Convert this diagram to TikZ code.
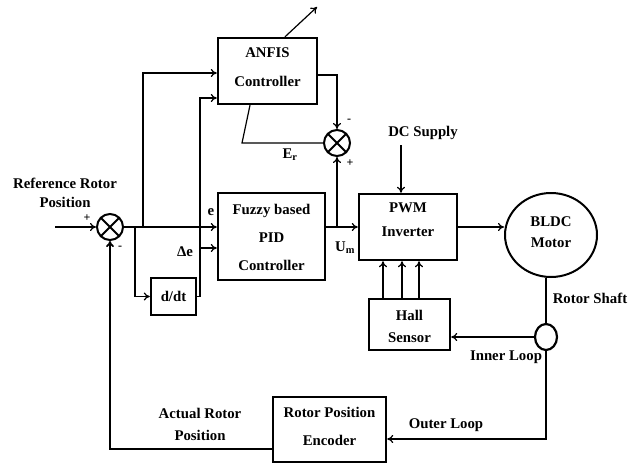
\documentclass[tikz,border=0pt]{standalone}
\usepackage{fontspec}
\setmainfont{Liberation Serif}
\usetikzlibrary{arrows.meta,shapes.geometric}

\begin{document}
\begin{tikzpicture}[x=1pt,y=-1pt,line width=1.2pt,>={To[length=6pt,width=8pt]},
  font=\fontsize{14.8}{18}\selectfont\bfseries,
  blk/.style={draw,line width=2.4pt,inner sep=0pt},
  btxt/.style={align=center,inner sep=0pt},
  lbl/.style={inner sep=0pt,align=center},
  sgn/.style={inner sep=0pt,font=\fontsize{12}{12}\selectfont\bfseries},
  sumj/.style={draw,circle,line width=2pt,minimum size=26pt,inner sep=0pt,
    path picture={\draw[line width=2pt]
      (path picture bounding box.north west)--(path picture bounding box.south east)
      (path picture bounding box.north east)--(path picture bounding box.south west);}}]
  \useasboundingbox (0,0) rectangle (639,463);
  % bloques
  \node[sumj] (j1) at (110,227) {};
  \node[sumj] (j2) at (337,143) {};
  \node[blk,minimum width=99pt,minimum height=66pt] (anfis) at (267.5,71) {};
  \node[btxt] (anfistxt) at (267.5,67.5) {ANFIS\\[11pt]Controller};
  \node[blk,minimum width=107pt,minimum height=87pt] (fuzzy) at (271.5,236.5) {};
  \node[btxt] (fuzzytxt) at (271.5,237.5) {Fuzzy based\\[10pt]PID\\[10pt]Controller};
  \node[blk,minimum width=45pt,minimum height=37pt] (ddt) at (173.5,296.5) {d/dt};
  \node[blk,minimum width=98pt,minimum height=66pt] (pwm) at (408,227) {};
  \node[btxt] (pwmtxt) at (408,220) {PWM\\[6pt]Inverter};
  \node[draw,ellipse,line width=2pt,minimum width=92pt,minimum height=84pt,inner sep=0pt] (bldc) at (551,235) {};
  \node[btxt] (bldctxt) at (551,232) {BLDC\\[3pt]Motor};
  \node[draw,ellipse,line width=2.2pt,minimum width=22pt,minimum height=26pt,inner sep=0pt] (sc) at (546,337) {};
  \node[blk,minimum width=81pt,minimum height=51pt] (hall) at (409.5,324.5) {};
  \node[btxt] (halltxt) at (409.5,326) {Hall\\[4pt]Sensor};
  \node[blk,minimum width=113pt,minimum height=65pt] (enc) at (329.5,429.5) {};
  \node[btxt] (enctxt) at (329.5,426) {Rotor Position\\[10pt]Encoder};
  % puntos de union
  \coordinate (rin) at (55,227);
  \coordinate (b1) at (143,227);
  \coordinate (b2) at (135,227);
  \coordinate (b3) at (200,248);
  \coordinate (dv) at (200,98);
  \coordinate (b4) at (337,227);
  \coordinate (erc) at (242,143);
  \coordinate (adapt) at (317,7);
  \coordinate (dcin) at (401,145);
  % lazo directo
  \draw[->] (rin) -- (j1.west);
  \draw[->] (j1.east) -- ([yshift=9.5pt]fuzzy.west);
  \draw[->] (b1) |- ([yshift=-2pt]anfis.west);
  \draw[->] (b2) |- (ddt.west);
  \draw[->] (ddt.east) -| (dv) -- ([yshift=-27pt]anfis.west);
  \draw[->] (b3) -- ([yshift=-11.5pt]fuzzy.west);
  \draw[->] ([yshift=-4pt]anfis.east) -| (j2.north);
  \draw[->] (b4) -- (j2.south);
  \draw (j2.west) -- (erc) -- ([xshift=-17.5pt]anfis.south);
  \draw[->] ([xshift=17.5pt]anfis.north) -- (adapt);
  \draw[->] (fuzzy.east |- pwm.west) -- (pwm.west);
  \draw[->] (dcin) -- ([xshift=-7pt]pwm.north);
  \draw[->] (pwm.east) -- (pwm.east -| bldc.west);
  % sensores y realimentacion
  \draw (bldc.south -| sc.north) -- (sc.north);
  \draw[->] (sc.west) -- (sc.west -| hall.east);
  \foreach \dx in {-25,-6,11}
    \draw[->] ([xshift=\dx pt]pwm.south |- hall.north) -- ([xshift=\dx pt]pwm.south);
  \draw[->] (sc.south) |- ([yshift=-9.5pt]enc.east);
  \draw[->,line width=1.8pt] ([yshift=-19.5pt]enc.west) -| (j1.south);
  % etiquetas
  \node[lbl] (refl) at (65,193) {Reference Rotor\\[1pt]Position};
  \node[sgn] (p1) at (87,218) {+};
  \node[sgn] (m1) at (120,248) {-};
  \node[sgn] (m2) at (349,121) {-};
  \node[sgn] (p2) at (350,163) {+};
  \node[lbl] (el) at (211,212) {e};
  \node[lbl] (del) at (185,252) {Δe};
  \node[lbl] (erl) at (290,155) {E\textsubscript{r}};
  \node[lbl] (uml) at (345,248) {U\textsubscript{m}};
  \node[lbl] (dcl) at (423,133) {DC Supply};
  \node[lbl] (shl) at (590,298) {Rotor Shaft};
  \node[lbl] (inl) at (506,357) {Inner Loop};
  \node[lbl] (outl) at (446,425) {Outer Loop};
  \node[lbl] (actl) at (200,424) {Actual Rotor\\[4pt]Position};
\end{tikzpicture}
\end{document}
